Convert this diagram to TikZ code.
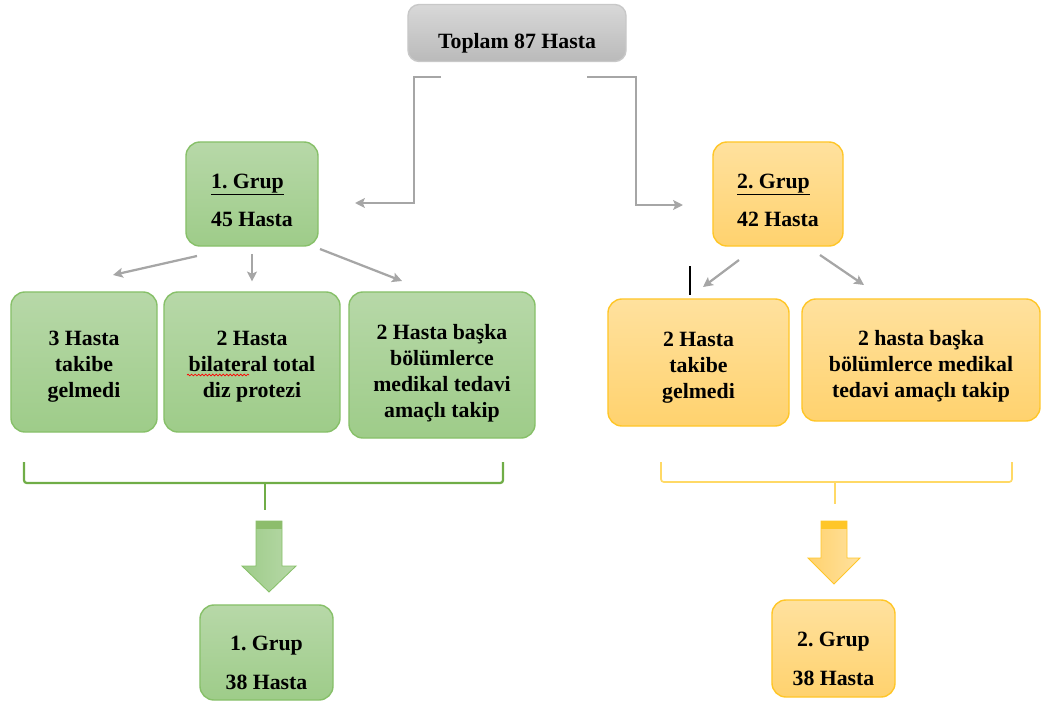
\documentclass[tikz,border=0pt]{standalone}
\usepackage{fontspec}
\setmainfont{Liberation Serif}
\usetikzlibrary{arrows.meta, decorations.pathmorphing}
\frenchspacing

\definecolor{graytop}{RGB}{216,216,216}
\definecolor{graybot}{RGB}{186,186,186}
\definecolor{grayline}{RGB}{200,200,200}
\definecolor{arrowgray}{RGB}{166,166,166}
\definecolor{greentop}{RGB}{183,216,168}
\definecolor{greenbot}{RGB}{158,204,137}
\definecolor{greenline}{RGB}{135,192,105}
\definecolor{greendark}{RGB}{112,173,71}
\definecolor{orangetop}{RGB}{255,225,158}
\definecolor{orangebot}{RGB}{255,210,110}
\definecolor{orangeline}{RGB}{255,198,40}
\definecolor{orangelight}{RGB}{255,217,102}

\tikzset{
    boxtext/.style={align=center, font=\bfseries\fontsize{15.5}{18.5}\selectfont},
    graybox/.style={rectangle, rounded corners=8pt, draw=grayline, line width=1pt, top color=graytop, bottom color=graybot, boxtext},
    greenbox/.style={rectangle, rounded corners=10pt, draw=greenline, line width=1pt, top color=greentop, bottom color=greenbot, boxtext},
    orangebox/.style={rectangle, rounded corners=10pt, draw=orangeline, line width=1pt, top color=orangetop, bottom color=orangebot, boxtext},
    conn/.style={draw=arrowgray, line width=1.6pt, -{Stealth[length=7pt, width=7pt, inset=1.5pt]}}
}

\begin{document}
\begin{tikzpicture}[x=0.025cm, y=-0.025cm]
            \useasboundingbox (0,0) rectangle (1041,704);

            % top
            \node[graybox, text height=26pt, minimum width=5.45cm, minimum height=1.425cm] (total) at (517,33) {Toplam 87 Hasta};

            % groups
            \node[greenbox, align=left, text height=46.7pt, minimum width=3.3cm, minimum height=2.6cm] (g1) at (252,194) {\underline{1. Grup}\\[9pt]45 Hasta};
            \node[orangebox, align=left, text height=46.7pt, minimum width=3.25cm, minimum height=2.6cm] (g2) at (778,194) {\underline{2. Grup}\\[9pt]42 Hasta};

            % excluded patients
            \node[greenbox, text height=54pt, minimum width=3.65cm, minimum height=3.5cm] (g1a) at (84,362) {3 Hasta\\takibe\\gelmedi};
            \node[greenbox, text height=54pt, minimum width=4.4cm, minimum height=3.5cm] (g1b) at (252,362) {2 Hasta\\bilateral total\\diz protezi};
            \node[greenbox, text height=77.5pt, minimum width=4.65cm, minimum height=3.65cm] (g1c) at (442,365) {2 Hasta başka\\bölümlerce\\medikal tedavi\\amaçlı takip};
            \node[orangebox, text height=55pt, minimum width=4.525cm, minimum height=3.175cm] (g2a) at (698.5,362.5) {2 Hasta\\takibe\\gelmedi};
            \node[orangebox, text height=56.3pt, minimum width=5.95cm, minimum height=3.05cm] (g2b) at (921,360) {2 hasta başka\\bölümlerce medikal\\tedavi amaçlı takip};

            % final groups
            \node[greenbox, text height=52.4pt, minimum width=3.325cm, minimum height=2.375cm] (f1) at (266.5,652.5) {1. Grup\\[9pt]38 Hasta};
            \node[orangebox, text height=52.4pt, minimum width=3.075cm, minimum height=2.425cm] (f2) at (833.5,648.5) {2. Grup\\[9pt]38 Hasta};

            % connector ends
            \coordinate (totalL) at (441,77);
            \coordinate (totalR) at (587,77);
            \coordinate (g1in) at (355,203);
            \coordinate (g2in) at (683,205);
            \coordinate (g1outa) at (197,256);
            \coordinate (g1ina) at (113,275);
            \coordinate (g1outc) at (320,249);
            \coordinate (g1inc) at (402,281);
            \coordinate (g2outa) at (739,260);
            \coordinate (g2ina) at (703,287);
            \coordinate (g2outb) at (820,255);
            \coordinate (g2inb) at (864,285);

            \draw[conn] (totalL) -- ++(-27,0) |- (g1in);
            \draw[conn] (totalR) -- ++(49,0) |- (g2in);
            \draw[conn] (g1outa) -- (g1ina);
            \draw[conn, shorten <=5pt, shorten >=7pt] (g1.south) -- (g1b.north);
            \draw[conn] (g1outc) -- (g1inc);
            \draw[conn] (g2outa) -- (g2ina);
            \draw[conn] (g2outb) -- (g2inb);

            % spell check mark and cursor
            \draw[red, line width=0.5pt, decorate, decoration={snake, amplitude=0.6pt, segment length=2.5pt}] (187,375) -- (249,375);
            \draw[black, line width=0.8pt] (690,266) -- (690,295);

            % brackets
            \draw[greendark, line width=1.6pt, rounded corners=2pt] (24,462) -- (24,483) -- (503,483) -- (503,462);
            \draw[greendark, line width=1.6pt] (265,483) -- (265,510);
            \draw[orangelight, line width=1.2pt, rounded corners=2pt] (661,462) -- (661,482) -- (1012,482) -- (1012,462);
            \draw[orangelight, line width=1.2pt] (835,482) -- (835,504);

            % block arrows
            \draw[greenline, line width=0.6pt, left color=greenbot, right color=greentop] (256,521) -- (282,521) -- (282,566) -- (296,566) -- (269,592) -- (242,566) -- (256,566) -- cycle;
            \fill[greendark!80] (256,521) rectangle (282,529);
            \draw[orangeline, line width=0.6pt, left color=orangebot, right color=orangetop] (821,521) -- (847,521) -- (847,558) -- (860,558) -- (834,584) -- (808,558) -- (821,558) -- cycle;
            \fill[orangeline] (821,521) rectangle (847,529);
\end{tikzpicture}
\end{document}
